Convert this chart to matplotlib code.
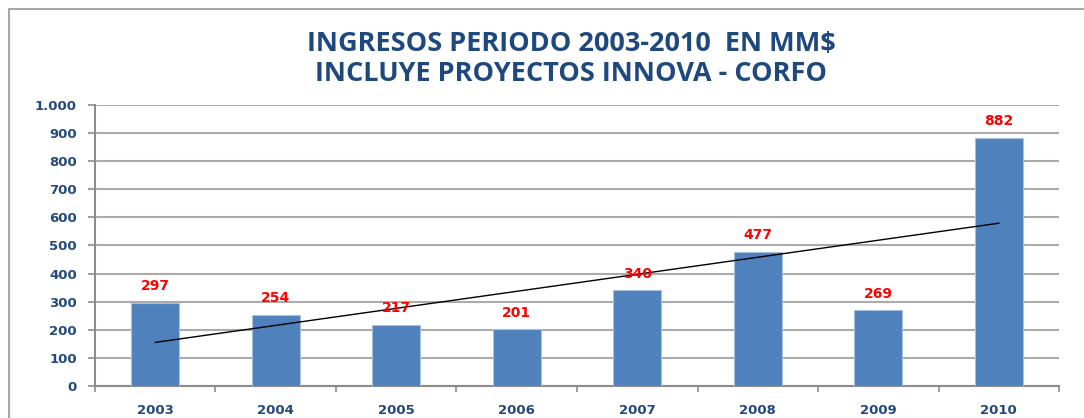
import numpy as np
import matplotlib.pyplot as plt
from matplotlib.patches import Rectangle
from matplotlib.ticker import FuncFormatter

# ---------------- data ----------------
years = ['2003', '2004', '2005', '2006', '2007', '2008', '2009', '2010']
ingresos = [297, 254, 217, 201, 340, 477, 269, 882]
y_ticks = [0, 100, 200, 300, 400, 500, 600, 700, 800, 900, 1000]

bar_color = '#4F81BD'
text_blue = '#1F497D'
tick_blue = '#244A7C'

fig = plt.figure(figsize=(10.84, 4.18), dpi=100)
ax = fig.add_axes([0.0876, 0.0766, 0.8894, 0.6724])

x = np.arange(len(years))
ax.bar(x, ingresos, width=0.4, color=bar_color, edgecolor='#A7C0DE', linewidth=0.8, zorder=3)

# linear trend line (least squares, like excel)
coef = np.polyfit(x, ingresos, 1)
ax.plot(x[[0, -1]], np.polyval(coef, x[[0, -1]]), color='black', lw=1.0, zorder=4)

for xi, v in zip(x, ingresos):
    ax.annotate(str(v), (xi, v), xytext=(0, 7), textcoords='offset points',
                ha='center', va='bottom', color='red', fontsize=10,
                fontweight='bold', family='DejaVu Sans', zorder=5)

ax.set_xlim(-0.5, len(years) - 0.5)
ax.set_ylim(0, 1000)
ax.set_yticks(y_ticks)
ax.yaxis.set_major_formatter(FuncFormatter(lambda v, p: '{:,.0f}'.format(v).replace(',', '.')))
ax.set_xticks(x)
ax.set_xticklabels(years)
ax.set_xticks(np.arange(-0.5, len(years)), minor=True)

ax.grid(axis='y', color='#ABABAB', lw=1.5, zorder=0)
ax.set_axisbelow(True)
for s in ['top', 'right']:
    ax.spines[s].set_visible(False)
for s in ['left', 'bottom']:
    ax.spines[s].set_color('#8C8C8C')
    ax.spines[s].set_linewidth(1.5)

ax.tick_params(axis='y', length=5, width=1.2, color='#8C8C8C', labelcolor=tick_blue,
               labelsize=9.5, pad=8)
ax.tick_params(axis='x', which='major', length=0, labelcolor=tick_blue, labelsize=9.5, pad=13)
ax.tick_params(axis='x', which='minor', length=4, width=1.2, color='#8C8C8C')
for lab in ax.get_xticklabels() + ax.get_yticklabels():
    lab.set_fontweight('bold')

fig.text(0.527, 0.895, 'INGRESOS PERIODO 2003-2010  EN MM$', ha='center', va='center',
         color=text_blue, fontsize=19.5, fontweight='bold', family='Open Sans')
fig.text(0.527, 0.824, 'INCLUYE PROYECTOS INNOVA - CORFO', ha='center', va='center',
         color=text_blue, fontsize=19.5, fontweight='bold', family='Open Sans')

# outer chart frame
fig.patches.append(Rectangle((9 / 1084, -0.05), 1.1, 1 - 9 / 418 + 0.05,
                             transform=fig.transFigure, fill=False,
                             edgecolor='#A6A6A6', lw=1.5))

fig.savefig('out.png', dpi=100)
